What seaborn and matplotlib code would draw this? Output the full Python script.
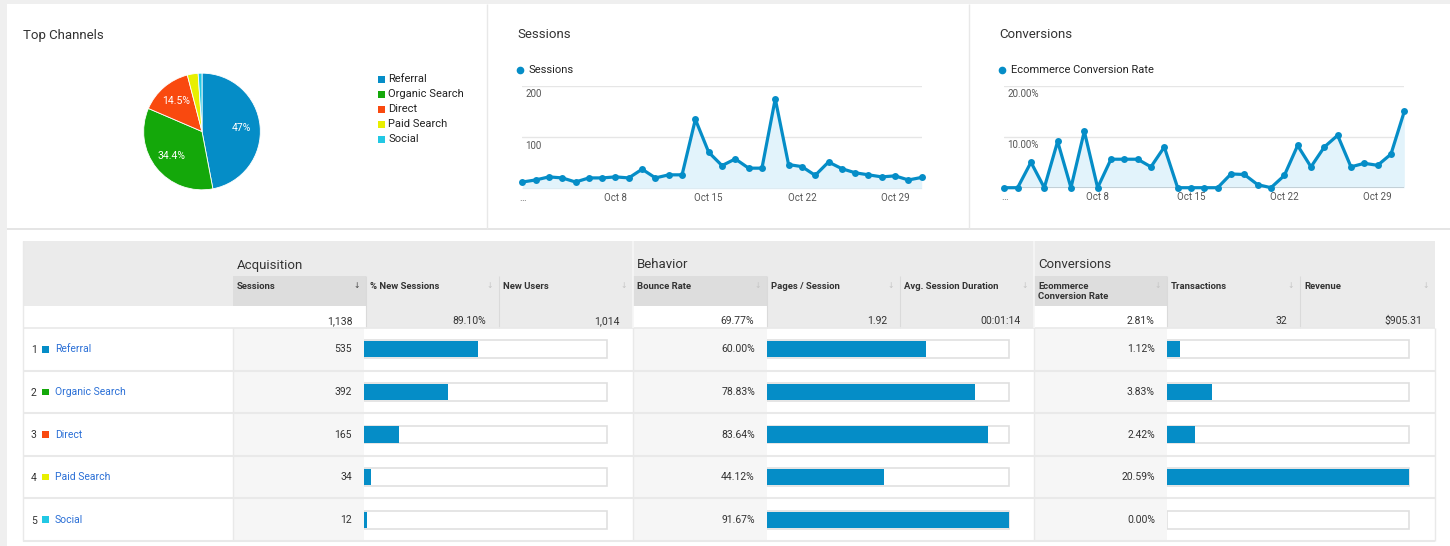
import numpy as np
import pandas as pd
import matplotlib
matplotlib.use("Agg")
import matplotlib.pyplot as plt
import seaborn as sns
from matplotlib.patches import Rectangle

# ---------------- data ----------------
channels = ["Referral", "Organic Search", "Direct", "Paid Search", "Social"]
channel_colors = ["#058dc7", "#14a80a", "#f9490f", "#e8ef00", "#22c8e4"]
sessions_by_channel = [535, 392, 165, 34, 12]
bounce_rate = [60.00, 78.83, 83.64, 44.12, 91.67]
conv_rate = [1.12, 3.83, 2.42, 20.59, 0.00]

days = list(range(1, 32))
daily_sessions = [13, 17, 23, 21, 13, 21, 21, 23, 21, 38, 21, 27, 27, 135, 71,
                  45, 58, 40, 40, 175, 47, 43, 26, 52, 39, 31, 27, 23, 25, 17, 22]
daily_conv = [0, 0, 5.0, 0, 9.1, 0, 11.1, 0, 5.6, 5.6, 5.6, 4.1, 8.0, 0, 0,
              0, 0, 2.7, 2.6, 0.6, 0, 2.4, 8.3, 4.1, 8.0, 10.3, 4.1, 4.8, 4.4, 6.6, 15.0]
date_ticks = [1, 8, 15, 22, 29]
date_tick_labels = ["\u2026", "Oct 8", "Oct 15", "Oct 22", "Oct 29"]

group_names = ["Acquisition", "Behavior", "Conversions"]
column_names = ["Sessions", "% New Sessions", "New Users",
                "Bounce Rate", "Pages / Session", "Avg. Session Duration",
                "Ecommerce\nConversion Rate", "Transactions", "Revenue"]
totals = ["1,138", "89.10%", "1,014", "69.77%", "1.92", "00:01:14",
          "2.81%", "32", "$905.31"]
sessions_labels = ["535", "392", "165", "34", "12"]
bounce_labels = ["60.00%", "78.83%", "83.64%", "44.12%", "91.67%"]
conv_labels = ["1.12%", "3.83%", "2.42%", "20.59%", "0.00%"]

# ---------------- style ----------------
sns.set_theme(style="white")
plt.rcParams["font.family"] = ["Roboto", "DejaVu Sans"]

BLUE = "#058dc7"
TXT = "#333333"
LINE = "#e9e9e9"
W, H = 1450, 546
fig = plt.figure(figsize=(W / 100, H / 100), dpi=100, facecolor="white")


def px_axes(x0, y0, x1, y1, z=2):
    ax = fig.add_axes([x0 / W, 1 - y1 / H, (x1 - x0) / W, (y1 - y0) / H])
    ax.set_zorder(z)
    return ax


bg = px_axes(0, 0, W, H, z=0)
bg.set_xlim(0, W)
bg.set_ylim(H, 0)
bg.axis("off")


def rect(x0, y0, x1, y1, fc, ec="none", lw=0, z=1):
    bg.add_patch(Rectangle((x0, y0), x1 - x0, y1 - y0, facecolor=fc,
                           edgecolor=ec, linewidth=lw, zorder=z))


def hline(y, x0, x1, c, lw=1.0, z=2):
    bg.plot([x0, x1], [y, y], color=c, lw=lw, zorder=z, solid_capstyle="butt")


def vline(x, y0, y1, c, lw=1.0, z=2):
    bg.plot([x, x], [y0, y1], color=c, lw=lw, zorder=z, solid_capstyle="butt")


# page background pieces
rect(0, 0, 7, H, "#efefef")
rect(0, 0, W, 4, "#efefef")
hline(229, 7, W, "#e0e0e0", 1.2)
vline(487, 4, 229, "#e8e8e8", 1)
vline(969, 4, 229, "#e8e8e8", 1)

# panel titles
for x, t in [(23, "Top Channels"), (517, "Sessions"), (999, "Conversions")]:
    bg.text(x, 35, t, fontsize=9.5, color=TXT, va="center", ha="left")

# ---------------- pie ----------------
axp = px_axes(142.5, 72, 261.5, 191)
total_sessions = sum(sessions_by_channel)
wedges, _ = axp.pie(sessions_by_channel, colors=channel_colors, startangle=90,
                    counterclock=False, radius=1,
                    wedgeprops=dict(edgecolor="white", linewidth=0.6))
for w, v in zip(wedges, sessions_by_channel):
    p = v / total_sessions * 100
    if p < 5:
        continue
    lab = f"{p:.1f}".rstrip("0").rstrip(".") + "%"
    ang = np.deg2rad((w.theta1 + w.theta2) / 2)
    axp.text(0.68 * np.cos(ang), 0.68 * np.sin(ang), lab, color="white",
             fontsize=7.5, ha="center", va="center")
axp.set_xlim(-1.02, 1.02)
axp.set_ylim(-1.02, 1.02)
axp.set_aspect("equal")
axp.axis("off")

# pie legend
for i, (c, n) in enumerate(zip(channel_colors, channels)):
    y = 79.3 + 15 * i
    rect(378, y - 3.5, 385, y + 3.5, c)
    bg.text(388.5, y, n, fontsize=8, color="#222222", va="center", ha="left")

# ---------------- line charts ----------------
def line_panel(box, yvals, ymax, ylabels, legend_xy, legend_text, base_color):
    ax = px_axes(*box)
    ax.axhline(ymax / 2, color="#e6e6e6", lw=1, zorder=0)
    ax.axhline(ymax, color="#e6e6e6", lw=1, zorder=0)
    ax.fill_between(days, yvals, 0, color="#e2f3fb", zorder=1, lw=0)
    sns.lineplot(x=days, y=yvals, ax=ax, color=BLUE, lw=2.3, marker="o",
                 markersize=5, markeredgewidth=0, zorder=3, clip_on=False)
    ax.axhline(0, color=base_color, lw=1, zorder=2)
    ax.set_xlim(1, 31)
    ax.set_ylim(0, ymax)
    ax.set_xticks(date_ticks)
    ax.set_xticklabels(date_tick_labels)
    ax.set_yticks([])
    ax.tick_params(axis="x", length=0, pad=3, labelsize=7, labelcolor="#555555")
    for s in ax.spines.values():
        s.set_visible(False)
    ax.set_facecolor("none")
    ax.set_xlabel("")
    ax.set_ylabel("")
    for v, lab in zip([ymax, ymax / 2], ylabels):
        ax.annotate(lab, xy=(0, v), xycoords=("axes fraction", "data"),
                    xytext=(2, -2.5), textcoords="offset points", va="top",
                    ha="left", fontsize=7, color="#555555")
    lx, ly = legend_xy
    bg.plot([lx], [ly], "o", color=BLUE, ms=4.5, zorder=3)
    bg.text(lx + 9, ly, legend_text, fontsize=8, color="#222222", va="center")
    return ax


line_panel((522.3, 86, 921.7, 188.7), daily_sessions, 200, ["200", "100"],
           (520, 70), "Sessions", "#cfcfcf")
line_panel((1004.3, 86, 1404.3, 187.7), daily_conv, 20, ["20.00%", "10.00%"],
           (1002, 70), "Ecommerce Conversion Rate", "#444444")

# ---------------- table ----------------
col_edges = [233, 366, 499, 633, 767, 900, 1034, 1167, 1300, 1435]
T_LEFT, T_TOP, G_BOT, S_BOT, TOT_BOT, T_BOT = 23, 241, 276, 306, 328, 541
row_h = (T_BOT - TOT_BOT) / len(channels)
sorted_cols = [0, 3, 6]
group_starts = [0, 3, 6]

# header
rect(T_LEFT, T_TOP, col_edges[-1], S_BOT, "#ebebeb")
for i in sorted_cols:
    rect(col_edges[i], G_BOT, col_edges[i + 1], S_BOT, "#dddddd", z=1.1)
for gi, g in enumerate(group_names):
    bg.text(col_edges[group_starts[gi]] + 4, 265, g, fontsize=9.5, color=TXT,
            va="center", ha="left")
for i, name in enumerate(column_names):
    x0, x1 = col_edges[i], col_edges[i + 1]
    if "\n" in name:
        a, b = name.split("\n")
        bg.text(x0 + 4, 286.5, a, fontsize=6.8, weight="bold", color=TXT, va="center")
        bg.text(x0 + 4, 296.5, b, fontsize=6.8, weight="bold", color=TXT, va="center")
    else:
        bg.text(x0 + 4, 286.5, name, fontsize=6.8, weight="bold", color=TXT, va="center")
    bg.text(x1 - 9, 286.5, "\u2193", fontsize=5.5,
            color="#444444" if i == 0 else "#c4c4c4", va="center", ha="center")
    if i not in group_starts:
        vline(x0, G_BOT, TOT_BOT, "#dadada", 0.8)

# totals row
rect(T_LEFT, S_BOT, col_edges[0], TOT_BOT, "white")
for i, t in enumerate(totals):
    x0, x1 = col_edges[i], col_edges[i + 1]
    rect(x0, S_BOT, x1, TOT_BOT, "white" if i in sorted_cols else "#ebebeb", z=1.1)
    bg.text(x1 - 13, 321, t, fontsize=7.5, color=TXT, va="center", ha="right")

# body rows
value_cols = [(233, 364), (633, 767), (1034, 1167)]
for r in range(len(channels)):
    y0 = TOT_BOT + r * row_h
    y1 = y0 + row_h
    yc = (y0 + y1) / 2
    for (a, b) in value_cols:
        rect(a, y0, b, y1, "#f6f6f6")
    hline(y1, T_LEFT, col_edges[-1], LINE, 1.5)
    bg.text(31, yc + 1, str(r + 1), fontsize=7.5, color=TXT, va="center", ha="left")
    rect(42.5, yc - 3.3, 49, yc + 3.3, channel_colors[r], z=3)
    bg.text(55, yc, channels[r], fontsize=7.5, color="#2a6fd6", va="center", ha="left")
    bg.text(364 - 12, yc, sessions_labels[r], fontsize=7.5, color=TXT, va="center", ha="right")
    bg.text(767 - 12, yc, bounce_labels[r], fontsize=7.5, color=TXT, va="center", ha="right")
    bg.text(1167 - 12, yc, conv_labels[r], fontsize=7.5, color=TXT, va="center", ha="right")

hline(TOT_BOT, T_LEFT, col_edges[-1], LINE, 1.2)
for x in [T_LEFT, col_edges[0], col_edges[3], col_edges[6], col_edges[-1]]:
    vline(x, TOT_BOT, T_BOT, LINE, 1.0)
for x in [col_edges[3], col_edges[6]]:
    vline(x, T_TOP, TOT_BOT, "#f6f6f6", 1.2)
vline(T_LEFT, T_TOP, TOT_BOT, LINE, 1.0)

# in-cell bar charts
bar_df = pd.DataFrame({"channel": channels, "sessions": sessions_by_channel,
                       "bounce": bounce_rate, "conv": conv_rate})


def bar_panel(x0, x1, col, scale):
    ax = px_axes(x0, TOT_BOT, x1, T_BOT, z=3)
    box = pd.DataFrame({"channel": channels, "v": [scale] * len(channels)})
    sns.barplot(data=box, x="v", y="channel", orient="h", color="white",
                saturation=1, width=0.42, edgecolor="#e0e0e0", linewidth=1.2, ax=ax)
    sns.barplot(data=bar_df, x=col, y="channel", orient="h", color=BLUE,
                saturation=1, width=0.38, linewidth=0, ax=ax)
    ax.set_xlim(0, scale * 1.003)
    ax.axis("off")
    ax.patch.set_visible(False)


bar_panel(364, 607.5, "sessions", sum(sessions_by_channel))
bar_panel(767, 1010, "bounce", max(bounce_rate))
bar_panel(1167, 1410, "conv", max(conv_rate))

fig.savefig("out.png", dpi=100, facecolor="white")
